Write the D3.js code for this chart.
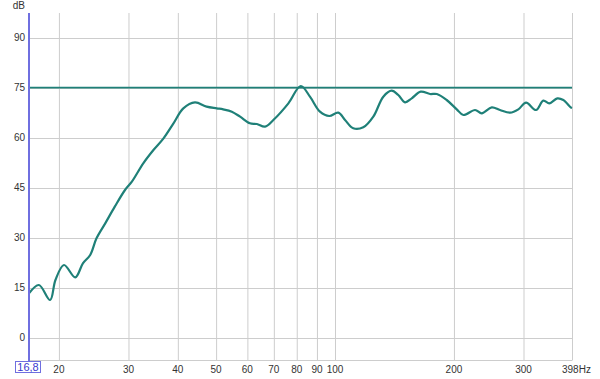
<!DOCTYPE html>
<html>
<head>
<meta charset="utf-8">
<script src="https://cdn.jsdelivr.net/npm/d3@7"></script>
<style>
  html, body { margin:0; padding:0; background:#fff; }
  svg { display:block; font-family:"Liberation Sans", Arial, sans-serif; }
</style>
</head>
<body>
<svg id="chart" width="600" height="379"></svg>
<script>
const W = 600, H = 379;
const P = {l:29, r:572, t:13, b:360}; // plot box

// measured response: frequency (Hz) and level (dB)
const freqs = [16.8, 17.8, 19.0, 19.6, 20.6, 22.0, 23.0, 24.0, 24.9, 26.2, 27.7, 29.4, 30.6,
  32.7, 34.7, 36.8, 39.0, 41.3, 44.2, 47.3, 50.2, 52.1, 54.8, 57.5, 60.9, 63.4, 66.5, 69.8,
  76.2, 81.9, 86.4, 91.6, 96.7, 101.9, 106, 111.2, 117.9, 125, 132.5, 139.1, 144.6, 150.4,
  156.4, 164.8, 174, 181, 191.7, 203.3, 211.3, 226.2, 235.2, 249.3, 261.6, 277.4, 291.1,
  304.5, 322.7, 336.7, 348.7, 365.4, 378.4, 395, 398];
const levels = [13.3, 15.8, 11.3, 17.3, 21.8, 18.1, 22.3, 24.8, 29.8, 34.3, 39.3, 44.3, 46.8,
  52.3, 56.3, 59.8, 64.3, 68.8, 70.6, 69.3, 68.8, 68.5, 67.8, 66.3, 64.3, 64.1, 63.3, 65.3,
  70.3, 75.5, 72.3, 67.8, 66.5, 67.5, 65.3, 62.8, 63.1, 66.3, 72.3, 74.1, 72.8, 70.6,
  71.8, 73.8, 73.1, 73.1, 71.3, 68.5, 66.8, 68.3, 67.3, 69.1, 68.3, 67.5, 68.5,
  70.5, 68.3, 71.1, 70.3, 71.8, 71.3, 69.1, 68.9];

const refLevel = 75;
const xTicks = [20, 30, 40, 50, 60, 70, 80, 90, 100, 200, 300];
const yTicks = [0, 15, 30, 45, 60, 75, 90];
const fMin = 16.8, fMax = 398;

const teal = "#1f8078", grid = "#cdcdcd", blue = "#6f6fe0", txt = "#333";

const svg = d3.select("#chart");
const x = d3.scaleLog().domain([fMin, fMax]).range([P.l, P.r]);
const y = d3.scaleLinear().domain([-6.7, 97.4]).range([P.b, P.t]);

// grid
svg.append("g").selectAll("line").data(xTicks.concat([fMax])).join("line")
  .attr("x1", d => x(d) + 0.5).attr("x2", d => x(d) + 0.5)
  .attr("y1", P.t).attr("y2", P.b)
  .attr("stroke", grid).attr("stroke-width", 1);

svg.append("g").selectAll("line").data(yTicks).join("line")
  .attr("x1", P.l).attr("x2", P.r)
  .attr("y1", d => Math.round(y(d)) + 0.5).attr("y2", d => Math.round(y(d)) + 0.5)
  .attr("stroke", grid).attr("stroke-width", 1);

svg.append("line")
  .attr("x1", P.l).attr("x2", P.r + 0.5)
  .attr("y1", P.b + 0.5).attr("y2", P.b + 0.5)
  .attr("stroke", grid);

// y labels
svg.append("g").selectAll("text").data(yTicks).join("text")
  .attr("x", 25).attr("y", d => y(d))
  .attr("dy", "0.35em")
  .attr("text-anchor", "end")
  .attr("font-size", 10).attr("fill", txt)
  .text(d => d);

svg.append("text")
  .attr("x", 25).attr("y", 9)
  .attr("text-anchor", "end")
  .attr("font-size", 10).attr("fill", txt)
  .text("dB");

// x labels
svg.append("g").selectAll("text").data(xTicks).join("text")
  .attr("x", d => x(d)).attr("y", 373)
  .attr("text-anchor", "middle")
  .attr("font-size", 10).attr("fill", txt)
  .text(d => d);

svg.append("text")
  .attr("x", x(fMax) - 10).attr("y", 373)
  .attr("font-size", 10).attr("fill", txt)
  .text("398Hz");

// reference level
svg.append("line")
  .attr("x1", P.l).attr("x2", P.r)
  .attr("y1", y(refLevel)).attr("y2", y(refLevel))
  .attr("stroke", teal).attr("stroke-width", 1.8);

// response curve
const pts = freqs.map((f, i) => ({f, v: levels[i]}));
const line = d3.line()
  .x(d => x(d.f))
  .y(d => y(d.v))
  .curve(d3.curveCatmullRom.alpha(0.5));

svg.append("path")
  .datum(pts)
  .attr("d", line)
  .attr("fill", "none")
  .attr("stroke", teal)
  .attr("stroke-width", 2.2)
  .attr("stroke-linejoin", "round");

// left cursor line + start label
svg.append("line")
  .attr("x1", P.l).attr("x2", P.l)
  .attr("y1", P.t).attr("y2", 361)
  .attr("stroke", blue).attr("stroke-width", 2);

svg.append("rect")
  .attr("x", 15.5).attr("y", 361.5).attr("width", 25).attr("height", 11)
  .attr("fill", "#fff").attr("stroke", blue);

svg.append("text")
  .attr("x", 28).attr("y", 371)
  .attr("text-anchor", "middle")
  .attr("font-size", 11).attr("fill", "#3a3ad0")
  .text("16,8");
</script>
</body>
</html>
